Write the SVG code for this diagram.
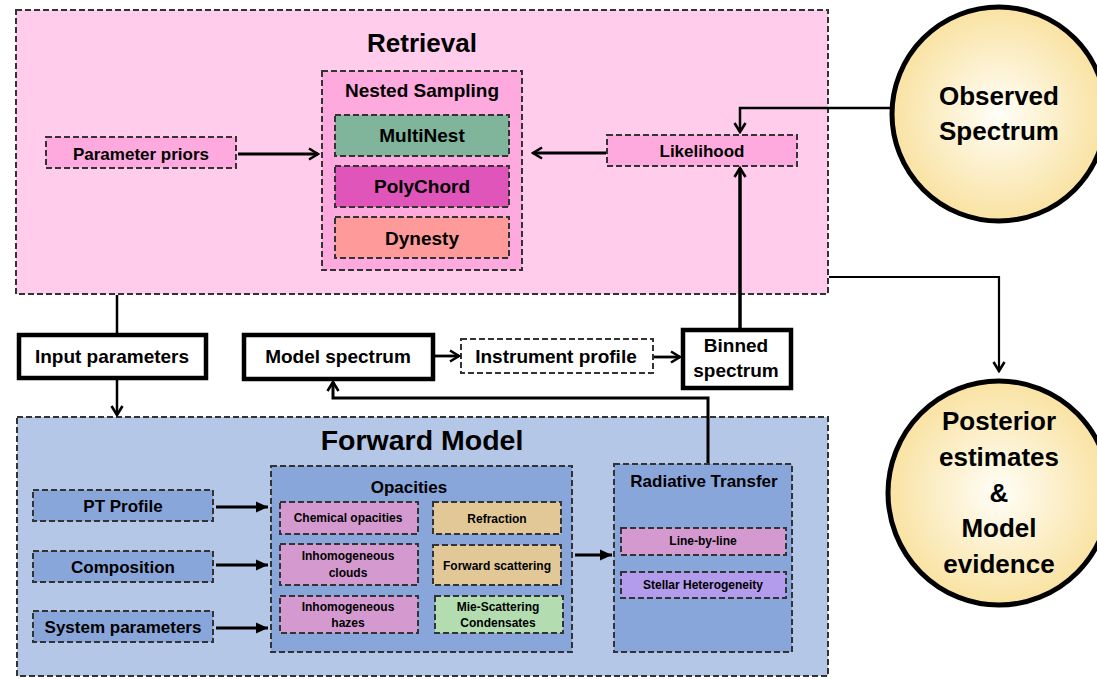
<svg xmlns="http://www.w3.org/2000/svg" width="1097" height="679" viewBox="0 0 1097 679">
<defs>
<radialGradient id="cream" cx="50%" cy="50%" r="50%">
<stop offset="0" stop-color="#fffef8"/>
<stop offset="1" stop-color="#f9e2a2"/>
</radialGradient>
<marker id="open" markerUnits="userSpaceOnUse" viewBox="0 0 14 14" refX="12" refY="7" markerWidth="14" markerHeight="14" orient="auto">
<path d="M3,1.5 L12,7 L3,12.5" fill="none" stroke="#000" stroke-width="2.6"/>
</marker>
<marker id="solid" markerUnits="userSpaceOnUse" viewBox="0 0 12 12" refX="12" refY="6" markerWidth="12" markerHeight="12" orient="auto">
<path d="M0,0.5 L12,6 L0,11.5 z" fill="#000"/>
</marker>
</defs>
<style>
text{font-family:"Liberation Sans",Arial,sans-serif;font-weight:bold;fill:#000;text-anchor:middle}
.dash{stroke:#333;stroke-width:2;stroke-dasharray:6 3}
.bold{fill:#fff;stroke:#000;stroke-width:4.5}
.circ{fill:url(#cream);stroke:#000;stroke-width:5}
.t28{font-size:28.5px}.t26{font-size:26px}.t19{font-size:19px}.t17{font-size:17px}.t12{font-size:12px}
.c{fill:none;stroke:#000}
</style>
<g id="retrieval">
<rect x="16" y="10" width="812" height="284" fill="#ffccec" class="dash"/>
<text class="t26" x="422" y="52">Retrieval</text>
</g>
<g id="nested-sampling">
<rect x="322" y="71" width="200" height="199" fill="#ffaadf" class="dash"/>
<text class="t19" x="422" y="97">Nested Sampling</text>
</g>
<g id="multinest">
<rect x="335" y="115" width="174" height="41" fill="#80b49b" class="dash"/>
<text class="t19" x="422" y="142">MultiNest</text>
</g>
<g id="polychord">
<rect x="335" y="166" width="174" height="41" fill="#e055b9" class="dash"/>
<text class="t19" x="422" y="193">PolyChord</text>
</g>
<g id="dynesty">
<rect x="335" y="217" width="174" height="41" fill="#ff9a9a" class="dash"/>
<text class="t19" x="422" y="245">Dynesty</text>
</g>
<g id="parameter-priors">
<rect x="46" y="137" width="190" height="31" fill="#ffaadf" class="dash"/>
<text class="t17" x="141" y="160">Parameter priors</text>
</g>
<g id="likelihood">
<rect x="607" y="135" width="190" height="31" fill="#ffaadf" class="dash"/>
<text class="t17" x="702" y="157">Likelihood</text>
</g>
<g id="observed-spectrum">
<circle cx="999" cy="114" r="107" class="circ"/>
<text class="t26" x="999" y="105">Observed</text>
<text class="t26" x="999" y="140">Spectrum</text>
</g>
<g id="posterior">
<ellipse cx="999" cy="493" rx="111" ry="112" class="circ"/>
<text class="t26" x="999" y="430">Posterior</text>
<text class="t26" x="999" y="466">estimates</text>
<text class="t26" x="999" y="502">&amp;</text>
<text class="t26" x="999" y="537">Model</text>
<text class="t26" x="999" y="573">evidence</text>
</g>
<g id="input-parameters">
<rect x="19" y="335" width="187" height="43" class="bold"/>
<text class="t19" x="112" y="363">Input parameters</text>
</g>
<g id="model-spectrum">
<rect x="244" y="335" width="189" height="44" class="bold"/>
<text class="t19" x="338" y="363">Model spectrum</text>
</g>
<g id="instrument-profile">
<rect x="461" y="339" width="192" height="34" fill="#fff" class="dash"/>
<text class="t19" x="556" y="363">Instrument profile</text>
</g>
<g id="binned-spectrum">
<rect x="683" y="330" width="108" height="58" class="bold"/>
<text class="t19" x="736" y="352">Binned</text>
<text class="t19" x="736" y="377">spectrum</text>
</g>
<g id="forward-model">
<rect x="17" y="417" width="811" height="259" fill="#b4c7e7" class="dash"/>
<text class="t28" x="422" y="450">Forward Model</text>
</g>
<g id="pt-profile">
<rect x="33" y="490" width="180" height="31" fill="#89a6da" class="dash"/>
<text class="t17" x="123" y="512">PT Profile</text>
</g>
<g id="composition">
<rect x="33" y="551" width="180" height="31" fill="#89a6da" class="dash"/>
<text class="t17" x="123" y="573">Composition</text>
</g>
<g id="system-parameters">
<rect x="33" y="611" width="180" height="31" fill="#89a6da" class="dash"/>
<text class="t17" x="123" y="633">System parameters</text>
</g>
<g id="opacities">
<rect x="271" y="466" width="301" height="186" fill="#89a6da" class="dash"/>
<text class="t17" x="409" y="493">Opacities</text>
</g>
<g id="chemical-opacities">
<rect x="280" y="502" width="138" height="32" fill="#d49ad0" class="dash"/>
<text class="t12" x="348" y="522">Chemical opacities</text>
</g>
<g id="refraction">
<rect x="433" y="502" width="128" height="32" fill="#e2c896" class="dash"/>
<text class="t12" x="497" y="523">Refraction</text>
</g>
<g id="inhomogeneous-clouds">
<rect x="280" y="544" width="138" height="41" fill="#d49ad0" class="dash"/>
<text class="t12" x="348" y="560">Inhomogeneous</text>
<text class="t12" x="348" y="577">clouds</text>
</g>
<g id="forward-scattering">
<rect x="433" y="545" width="128" height="40" fill="#e2c896" class="dash"/>
<text class="t12" x="497" y="570">Forward scattering</text>
</g>
<g id="inhomogeneous-hazes">
<rect x="280" y="596" width="138" height="37" fill="#d49ad0" class="dash"/>
<text class="t12" x="348" y="611">Inhomogeneous</text>
<text class="t12" x="348" y="627">hazes</text>
</g>
<g id="mie-scattering">
<rect x="435" y="596" width="128" height="37" fill="#b3ddb0" class="dash"/>
<text class="t12" x="498" y="611">Mie-Scattering</text>
<text class="t12" x="498" y="627">Condensates</text>
</g>
<g id="radiative-transfer">
<rect x="614" y="464" width="178" height="188" fill="#89a6da" class="dash"/>
<text class="t17" x="704" y="487">Radiative Transfer</text>
</g>
<g id="line-by-line">
<rect x="621" y="528" width="165" height="27" fill="#d49ad0" class="dash"/>
<text class="t12" x="703" y="545">Line-by-line</text>
</g>
<g id="stellar-heterogeneity">
<rect x="621" y="572" width="165" height="26" fill="#b39ceb" class="dash"/>
<text class="t12" x="703" y="589">Stellar Heterogeneity</text>
</g>
<g id="connectors">
<path class="c" d="M238,154 H318" stroke-width="3.2" marker-end="url(#open)"/>
<path class="c" d="M606,153 H533" stroke-width="3.2" marker-end="url(#open)"/>
<path class="c" d="M891,108 H740 V132" stroke-width="2.5" marker-end="url(#open)"/>
<path class="c" d="M740,328 V168" stroke-width="3.5" marker-end="url(#open)"/>
<path class="c" d="M829,277 H999 V371" stroke-width="2.2" marker-end="url(#open)"/>
<path class="c" d="M117,295 V334" stroke-width="2.5"/>
<path class="c" d="M117,380 V415" stroke-width="2.5" marker-end="url(#open)"/>
<path class="c" d="M435,356 H459" stroke-width="2.8" marker-end="url(#open)"/>
<path class="c" d="M654,357 H680" stroke-width="2.8" marker-end="url(#open)"/>
<path class="c" d="M708,463 V398 H333 V382" stroke-width="3" marker-end="url(#open)"/>
<path class="c" d="M216,507 H268" stroke-width="3" marker-end="url(#solid)"/>
<path class="c" d="M216,565 H268" stroke-width="3" marker-end="url(#solid)"/>
<path class="c" d="M216,628 H268" stroke-width="3" marker-end="url(#solid)"/>
<path class="c" d="M575,555 H612" stroke-width="3" marker-end="url(#solid)"/>
</g>
</svg>
